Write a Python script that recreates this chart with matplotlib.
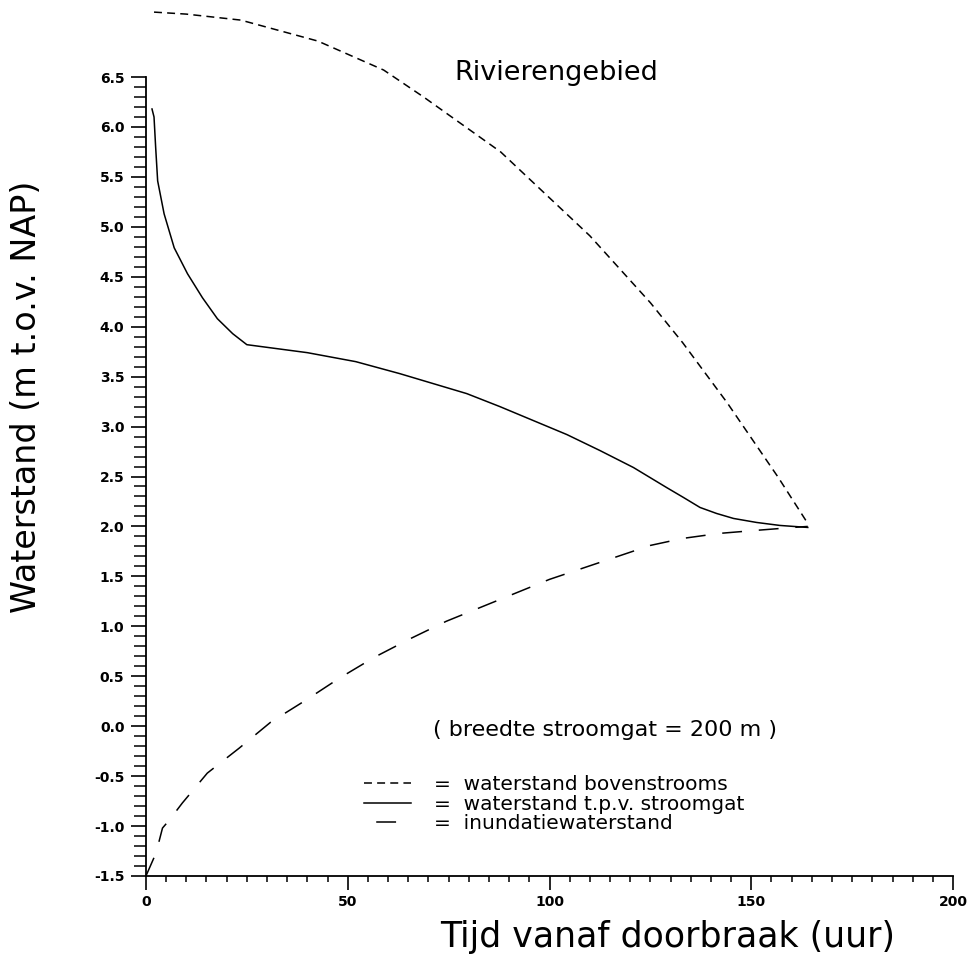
import matplotlib
matplotlib.use("Agg")
import matplotlib.pyplot as plt
from matplotlib.lines import Line2D
from matplotlib.ticker import MultipleLocator, FixedLocator

# Upstream water level (waterstand bovenstrooms)
t_boven = [2, 10, 23.5, 42.6, 58.9, 68.8, 87.9, 110, 125, 133, 144, 156.7, 164]
h_boven = [7.15, 7.13, 7.07, 6.86, 6.57, 6.30, 5.75, 4.91, 4.24, 3.84, 3.24, 2.49, 2.03]

# Water level at the breach (waterstand t.p.v. stroomgat)
t_gat = [1.5, 2.0, 2.4, 2.9, 4.5, 7.0, 10.3, 14.0, 17.7, 21.5, 25, 40, 52, 62.9, 71.2,
         79.5, 87.7, 96.0, 104.3, 112.5, 120.8, 129.0, 133.2, 137.3, 141.4, 145.6,
         151.3, 157.1, 164]
h_gat = [6.18, 6.10, 5.80, 5.46, 5.13, 4.79, 4.53, 4.29, 4.08, 3.93, 3.82, 3.74, 3.65,
         3.53, 3.43, 3.33, 3.20, 3.06, 2.92, 2.76, 2.59, 2.39, 2.29, 2.19, 2.13, 2.08,
         2.04, 2.01, 1.99]

# Inundation level of the polder (inundatiewaterstand)
t_inund = [0, 2.5, 4.1, 5.8, 9.0, 15.2, 23.1, 30.9, 39.6, 47.9, 56.6, 65.7, 74.4,
           100, 125, 133, 142, 151, 160.4, 164]
h_inund = [-1.5, -1.27, -1.02, -0.94, -0.77, -0.47, -0.22, 0.04, 0.26, 0.48, 0.69,
           0.88, 1.05, 1.47, 1.81, 1.88, 1.93, 1.96, 1.99, 2.0]

x_ticks = [0, 50, 100, 150, 200]
x_ticklabels = ["0", "50", "100", "150", "200"]
y_ticks = [-1.5, -1.0, -0.5, 0.0, 0.5, 1.0, 1.5, 2.0, 2.5, 3.0, 3.5, 4.0, 4.5, 5.0, 5.5, 6.0, 6.5]
y_ticklabels = ["-1.5", "-1.0", "-0.5", "0.0", "0.5", "1.0", "1.5", "2.0", "2.5",
                "3.0", "3.5", "4.0", "4.5", "5.0", "5.5", "6.0", "6.5"]

series_labels = ["=  waterstand bovenstrooms",
                 "=  waterstand t.p.v. stroomgat",
                 "=  inundatiewaterstand"]

plt.rcParams["font.family"] = ["DejaVu Sans"]

fig = plt.figure(figsize=(9.73, 9.64), dpi=100)
ax = fig.add_axes([0.150, 0.0913, 0.8295, 0.8288])

lw = 1.1
style_boven = (0, (5.2, 3.4))
style_inund = (0, (13.0, 11.0))

ax.plot(t_boven, h_boven, color="black", lw=lw, linestyle=style_boven, clip_on=False)
ax.plot(t_gat, h_gat, color="black", lw=lw, linestyle="-", clip_on=False)
ax.plot(t_inund, h_inund, color="black", lw=lw, linestyle=style_inund, clip_on=False)

ax.set_xlim(0, 200)
ax.set_ylim(-1.5, 6.5)

for side in ("top", "right"):
    ax.spines[side].set_visible(False)
for side in ("left", "bottom"):
    ax.spines[side].set_linewidth(1.3)

ax.xaxis.set_major_locator(FixedLocator(x_ticks))
ax.set_xticklabels(x_ticklabels)
ax.xaxis.set_minor_locator(MultipleLocator(5))
ax.yaxis.set_major_locator(FixedLocator(y_ticks))
ax.set_yticklabels(y_ticklabels)
ax.yaxis.set_minor_locator(MultipleLocator(0.1))

ax.tick_params(axis="x", which="major", direction="out", length=10, width=1.2, pad=4,
               labelsize=10)
ax.tick_params(axis="x", which="minor", direction="out", length=4.5, width=1.1)
ax.tick_params(axis="y", which="major", direction="out", length=10.5, width=1.2, pad=5,
               labelsize=10)
ax.tick_params(axis="y", which="minor", direction="out", length=8.5, width=1.1)
for lab in ax.get_xticklabels() + ax.get_yticklabels():
    lab.set_fontweight("bold")

ax.set_xlabel("Tijd vanaf doorbraak (uur)", fontsize=25, va="center")
ax.xaxis.set_label_coords(0.646, -0.076)
ax.set_ylabel("Waterstand (m t.o.v. NAP)", fontsize=24, va="center")
ax.yaxis.set_label_coords(-0.148, 0.60)

ax.text(101.6, 6.54, "Rivierengebied", fontsize=19.5,
        ha="center", va="center")
ax.text(71.1, -0.04, "( breedte stroomgat = 200 m )", fontsize=16,
        ha="left", va="center")

handles = [
    Line2D([], [], color="black", lw=lw, linestyle=style_boven),
    Line2D([], [], color="black", lw=lw, linestyle="-"),
    Line2D([], [], color="black", lw=lw, linestyle=(16.0, (13.0, 11.0))),
]
leg = ax.legend(handles, series_labels, loc="upper left",
                bbox_to_anchor=(0.265, 0.131), frameon=False,
                prop={"size": 14.5}, handlelength=2.35,
                handletextpad=1.15, labelspacing=0.02, borderpad=0.2,
                borderaxespad=0)

fig.savefig("out.png", dpi=100, facecolor="white")
